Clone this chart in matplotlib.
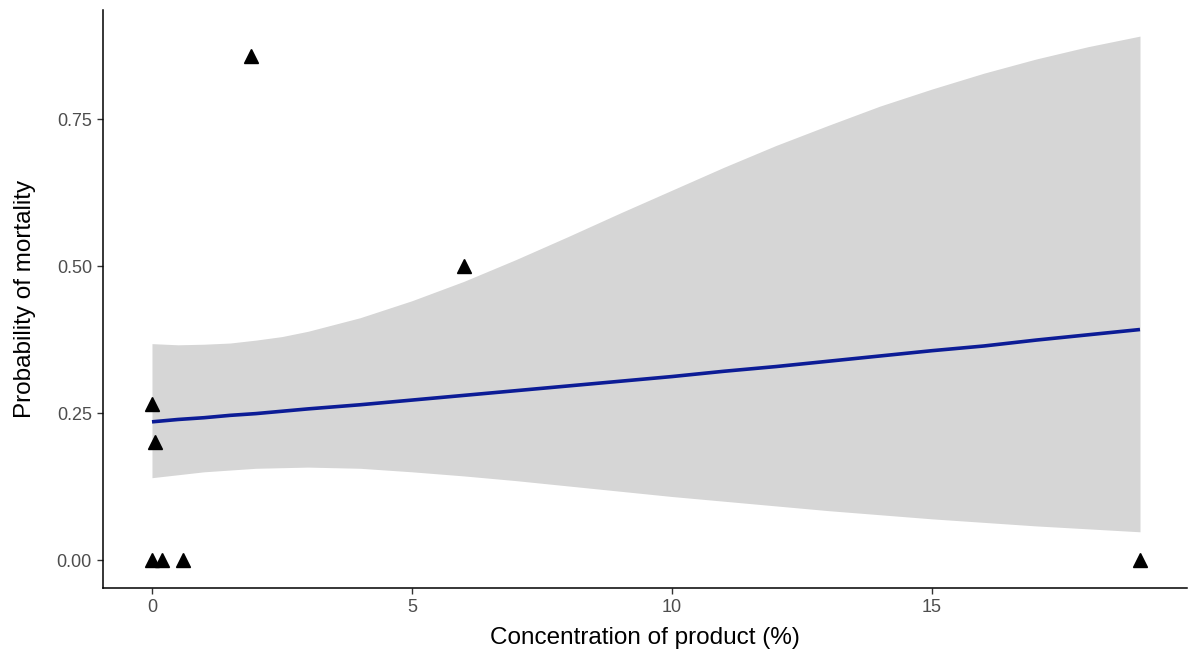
import matplotlib
matplotlib.use("Agg")
import matplotlib.pyplot as plt

plt.rcParams['font.family'] = ['Liberation Sans', 'DejaVu Sans']

# Observed points
conc = [0, 0.05, 0, 0.2, 0.6, 1.9, 6, 19]
mort = [0.265, 0.2, 0, 0, 0, 0.857, 0.5, 0]

# Fitted curve and confidence band
fit_x = [0, 0.5, 1, 1.5, 2, 2.5, 3, 4, 5, 6, 7, 8, 9, 10, 11, 12, 13, 14, 15, 16, 17, 18, 19]
fit_y = [0.235, 0.239, 0.242, 0.246, 0.249, 0.253, 0.257, 0.264, 0.272, 0.280, 0.288,
         0.296, 0.304, 0.312, 0.321, 0.329, 0.338, 0.347, 0.356, 0.364, 0.374, 0.383, 0.392]
ci_low = [0.140, 0.145, 0.150, 0.153, 0.156, 0.157, 0.158, 0.156, 0.150, 0.143, 0.135,
          0.126, 0.117, 0.108, 0.100, 0.092, 0.084, 0.077, 0.070, 0.064, 0.058, 0.053, 0.048]
ci_high = [0.368, 0.366, 0.367, 0.369, 0.374, 0.380, 0.389, 0.412, 0.441, 0.474, 0.511,
           0.550, 0.590, 0.629, 0.668, 0.705, 0.739, 0.772, 0.801, 0.828, 0.852, 0.873, 0.891]

x_ticks = [0, 5, 10, 15]
y_ticks = [0.00, 0.25, 0.50, 0.75]
y_tick_labels = ["0.00", "0.25", "0.50", "0.75"]

fig = plt.figure(figsize=(11.88, 6.53), dpi=100)
W, H = 1188, 653
left, right, top, bottom = 103, 1187, 10, 588
ax = fig.add_axes([left / W, 1 - bottom / H, (right - left) / W, (bottom - top) / H])

ax.fill_between(fit_x, ci_low, ci_high, color='#D6D6D6', linewidth=0, zorder=1)
ax.plot(fit_x, fit_y, color='#0C1C96', linewidth=2.6, zorder=2, solid_capstyle='butt')
ax.plot(conc, mort, linestyle='none', marker='^', markersize=9.5, color='black', zorder=3)

ax.set_xlim(-0.942, 19.904)
ax.set_ylim(-0.0476, 0.9354)
ax.set_xticks(x_ticks)
ax.set_yticks(y_ticks)
ax.set_yticklabels(y_tick_labels)

for s in ['top', 'right']:
    ax.spines[s].set_visible(False)
for s in ['left', 'bottom']:
    ax.spines[s].set_linewidth(1.1)
    ax.spines[s].set_color('black')

ax.tick_params(axis='both', length=4, width=1.0, color='#333333', labelcolor='#4D4D4D',
               labelsize=13, pad=4)

ax.set_xlabel("Concentration of product (%)", fontsize=17.5, color='black', labelpad=8)
ax.set_ylabel("Probability of mortality", fontsize=17.5, color='black', labelpad=15)

fig.savefig("out.png", dpi=100, facecolor='white')
